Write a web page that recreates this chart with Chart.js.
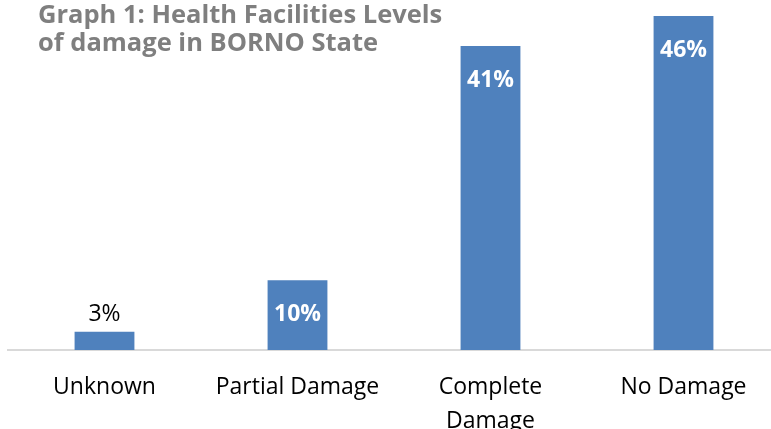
<!DOCTYPE html>
<html>
<head>
<meta charset="utf-8">
<script src="https://cdn.jsdelivr.net/npm/chart.js@4"></script>
<style>
    html, body { margin: 0; padding: 0; overflow: hidden; background: #fff; }
    #wrap { position: relative; width: 780px; height: 429px; }
    #title {
        position: absolute; left: 38px; top: -1px; margin: 0;
        font-family: "Open Sans", sans-serif; font-weight: bold;
        font-size: 25.5px; line-height: 28px; color: #7f7f7f;
        white-space: nowrap;
    }
</style>
</head>
<body>
<div id="wrap">
    <canvas id="chart" width="780" height="429"></canvas>
    <div id="title">Graph 1: Health Facilities Levels<br>of damage in BORNO State</div>
</div>
<script>
const categories = ["Unknown", "Partial Damage", ["Complete", "Damage"], "No Damage"];
const shares = [2.5, 9.5, 41.4, 45.5];

// labels: first one sits above its bar, the rest inside at the top
const barLabels = {
    id: 'barLabels',
    afterDatasetsDraw(chart) {
        const ctx = chart.ctx;
        const meta = chart.getDatasetMeta(0);
        ctx.save();
        ctx.textAlign = 'center';
        ctx.textBaseline = 'middle';
        meta.data.forEach((bar, i) => {
            const txt = Math.round(shares[i]) + '%';
            if (bar.base - bar.y < 50) {
                ctx.fillStyle = '#000';
                ctx.font = '23px "Open Sans"';
                ctx.fillText(txt, bar.x, bar.y - 17);
            } else {
                ctx.fillStyle = '#fff';
                ctx.font = 'bold 23px "Open Sans"';
                ctx.fillText(txt, bar.x, bar.y + 34);
            }
        });
        ctx.restore();
    }
};

const ctx = document.getElementById('chart').getContext('2d');
new Chart(ctx, {
    type: 'bar',
    data: {
        labels: categories,
        datasets: [{
            data: shares,
            backgroundColor: '#4f81bd',
            barPercentage: 0.31,
            categoryPercentage: 1
        }]
    },
    options: {
        responsive: false,
        animation: false,
        layout: { padding: { left: 8, right: 0, top: 5, bottom: 0 } },
        plugins: {
            legend: { display: false },
            tooltip: { enabled: false }
        },
        scales: {
            x: {
                grid: { display: false, drawTicks: false },
                border: { display: true, color: '#d9d9d9', width: 2 },
                ticks: {
                    color: '#000',
                    padding: 20,
                    maxRotation: 0,
                    autoSkip: false,
                    font: { family: 'Open Sans', size: 23, lineHeight: 1.48 }
                },
                afterFit: (scale) => { scale.height = 79; }
            },
            y: {
                display: false,
                min: 0,
                max: 47
            }
        }
    },
    plugins: [barLabels]
});
</script>
</body>
</html>
